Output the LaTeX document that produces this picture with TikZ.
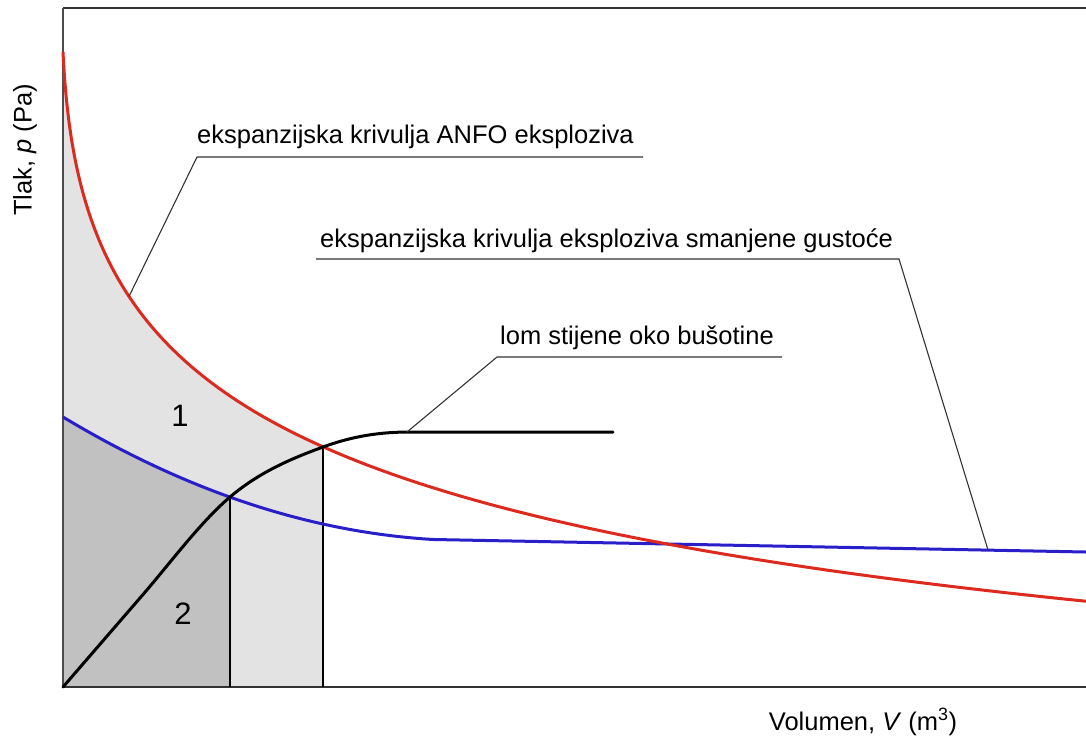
\documentclass[tikz,border=0pt]{standalone}
\usepackage{fontspec}
\setmainfont{Liberation Sans}
\definecolor{curvered}{RGB}{220,42,30}
\definecolor{curveblue}{RGB}{42,30,200}
\definecolor{lightfill}{RGB}{227,227,227}
\definecolor{darkfill}{RGB}{193,193,193}
\begin{document}
\begin{tikzpicture}[x=1pt,y=-1pt,
  axisline/.style={draw=black!80, line width=1.8pt},
  redc/.style={draw=curvered, line width=3pt},
  bluec/.style={draw=curveblue, line width=3pt},
  blackc/.style={draw=black, line width=3pt, line cap=round},
  vline/.style={draw=black, line width=2pt},
  leader/.style={draw=black!80, line width=1.1pt},
  lbl/.style={font=\fontsize{25.5}{30}\selectfont, anchor=base west, inner sep=0pt},
  numlbl/.style={font=\fontsize{31}{36}\selectfont, inner sep=0pt},
  axlbl/.style={font=\fontsize{25.5}{30}\selectfont, inner sep=0pt},
  redpath/.style={insert path={plot[domain=0:31.984, samples=260, variable=\t] ({63+\t*\t},{52+53.39*ln(1+\t*\t/3)+80.87*ln(1+\t*\t/40)-0.02692*\t*\t})}},
  bluepath/.style={insert path={plot[domain=0:370, samples=120, variable=\t] ({63+\t},{417+0.602*\t-0.000735*\t*\t}) -- (1086,552)}},
]
\useasboundingbox (0,0) rectangle (1086,737);
\coordinate (o) at (63,687);
\coordinate (tl) at (63,8);
\coordinate (tr) at (1086,8);
\coordinate (br) at (1086,687);
\coordinate (rb) at (323,447);
\coordinate (bb) at (230,497);
\coordinate (kb) at (140,598);
\coordinate (ke) at (410,432);
\coordinate (kend) at (613,432);
% shaded regions
\begin{scope}
  \clip (63,0) rectangle (323,687);
  \fill[lightfill, redpath] -- (1086,687) -- (63,687) -- cycle;
\end{scope}
\begin{scope}
  \clip (63,0) rectangle (230,687);
  \fill[darkfill, bluepath] -- (1086,687) -- (63,687) -- cycle;
\end{scope}
% axes
\draw[axisline] (tl) -- (tr);
\draw[draw=black!70, line width=1.4pt] (tl) -- (o);
\draw[axisline] (o) -- (br);
% verticals
\draw[vline] (bb) -- (bb |- o);
\draw[vline] (rb) -- (rb |- o);
% curves
\draw[bluec, bluepath];
\draw[redc, redpath];
\draw[blackc] (o) -- (kb)
  .. controls (170,563.5) and (200,522.5) .. (bb)
  .. controls (260,471.5) and (293,458) .. (rb)
  .. controls (353,436) and (380,432) .. (ke) -- (kend);
% labels
\node[lbl] (t1) at (197,143) {ekspanzijska krivulja ANFO eksploziva};
\node[lbl] (t2) at (320,247) {ekspanzijska krivulja eksploziva smanjene gustoće};
\node[lbl] (t3) at (500,344) {lom stijene oko bušotine};
\coordinate (u1a) at (197,157); \coordinate (u1b) at (643,157);
\coordinate (a1) at ({63+66},{52+53.39*ln(1+66/3)+80.87*ln(1+66/40)-0.02692*66});
\coordinate (u2a) at (316,259); \coordinate (u2b) at (899,259); \coordinate (a2) at (988,550);
\coordinate (u3a) at (497,357); \coordinate (u3b) at (782,357); \coordinate (a3) at (407,432);
\draw[leader] (u1b) -- (u1a) -- (a1);
\draw[leader] (u2a) -- (u2b) -- (a2);
\draw[leader] (u3b) -- (u3a) -- (a3);
\node[numlbl] (n1) at (180,416) {1};
\node[numlbl] (n2) at (183,614) {2};
\node[axlbl, rotate=90] (yl) at (25,150) {Tlak, \textit{p} (Pa)};
\node[axlbl, anchor=base] (xl) at (863,730) {Volumen, \textit{V} (m\textsuperscript{3})};
\end{tikzpicture}
\end{document}
